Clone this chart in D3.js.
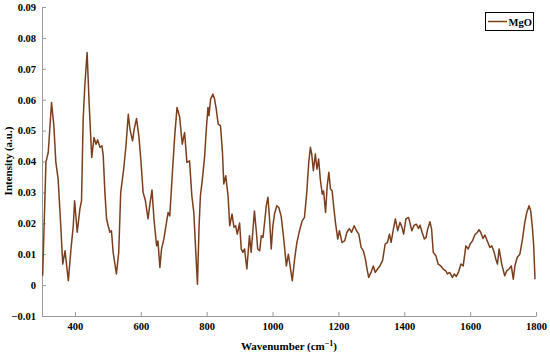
<!DOCTYPE html>
<html>
<head>
<meta charset="utf-8">
<script src="https://cdn.jsdelivr.net/npm/d3@7"></script>
<style>
  body { margin: 0; background: #fff; }
  svg { display: block; }
  text { font-family: "Liberation Serif", "Times New Roman", serif; }
</style>
</head>
<body>
<svg id="chart" width="550" height="356"></svg>
<script>
const wavenumber = [302,312,319,329,336,342,349,357,363,370,380,388,395,399,407,415,420,425,430,437,443,451,458,464,469,476,482,486,491,496,501,506,511,516,526,533,539,548,555,562,567,575,580,587,594,600,607,614,622,627,634,640,648,652,658,663,670,678,683,688,696,703,710,718,726,733,740,748,755,761,767,772,777,781,787,794,799,804,807,812,819,824,829,835,842,848,852,858,865,870,877,883,888,893,900,905,910,915,922,930,935,940,945,951,955,961,966,971,977,981,986,991,996,1001,1006,1013,1019,1026,1033,1042,1048,1060,1067,1074,1082,1090,1097,1104,1110,1115,1119,1124,1130,1135,1140,1145,1151,1155,1161,1166,1171,1176,1181,1186,1191,1198,1203,1211,1219,1226,1233,1240,1248,1255,1262,1269,1276,1282,1287,1292,1299,1306,1312,1319,1326,1334,1342,1349,1355,1360,1367,1373,1380,1387,1393,1398,1405,1413,1417,1423,1430,1437,1443,1448,1454,1461,1466,1471,1478,1483,1488,1496,1503,1511,1518,1526,1531,1538,1546,1552,1558,1565,1572,1579,1587,1594,1600,1607,1614,1622,1627,1632,1639,1645,1652,1660,1666,1673,1678,1683,1688,1696,1705,1711,1718,1725,1731,1736,1743,1751,1759,1766,1772,1779,1784,1789,1793,1797];
const intensity = [0.0030,0.0398,0.0430,0.0591,0.0516,0.0398,0.0343,0.0192,0.0068,0.0111,0.0014,0.0117,0.0192,0.0273,0.0171,0.0246,0.0273,0.0537,0.0645,0.0753,0.0591,0.0413,0.0478,0.0456,0.0470,0.0446,0.0451,0.0418,0.0300,0.0214,0.0192,0.0171,0.0176,0.0106,0.0036,0.0106,0.0300,0.0375,0.0451,0.0553,0.0505,0.0467,0.0505,0.0539,0.0483,0.0408,0.0300,0.0273,0.0214,0.0257,0.0308,0.0214,0.0127,0.0143,0.0057,0.0117,0.0149,0.0203,0.0235,0.0224,0.0365,0.0483,0.0575,0.0543,0.0456,0.0494,0.0397,0.0402,0.0289,0.0235,0.0106,0.0003,0.0192,0.0289,0.0343,0.0418,0.0505,0.0575,0.0548,0.0602,0.0618,0.0602,0.0570,0.0521,0.0516,0.0429,0.0327,0.0354,0.0289,0.0192,0.0230,0.0187,0.0192,0.0165,0.0201,0.0117,0.0106,0.0117,0.0052,0.0160,0.0106,0.0171,0.0240,0.0171,0.0117,0.0111,0.0160,0.0154,0.0214,0.0257,0.0284,0.0214,0.0117,0.0192,0.0230,0.0257,0.0251,0.0224,0.0160,0.0062,0.0100,0.0014,0.0084,0.0138,0.0176,0.0208,0.0219,0.0300,0.0397,0.0446,0.0424,0.0370,0.0424,0.0375,0.0408,0.0343,0.0294,0.0305,0.0235,0.0321,0.0365,0.0311,0.0305,0.0251,0.0203,0.0149,0.0176,0.0138,0.0143,0.0171,0.0183,0.0171,0.0192,0.0176,0.0165,0.0122,0.0111,0.0084,0.0052,0.0025,0.0041,0.0062,0.0041,0.0052,0.0062,0.0079,0.0133,0.0138,0.0165,0.0138,0.0181,0.0214,0.0176,0.0203,0.0187,0.0165,0.0214,0.0219,0.0203,0.0176,0.0194,0.0197,0.0183,0.0194,0.0171,0.0149,0.0154,0.0181,0.0205,0.0181,0.0106,0.0095,0.0068,0.0062,0.0052,0.0046,0.0036,0.0041,0.0025,0.0036,0.0028,0.0043,0.0068,0.0062,0.0127,0.0117,0.0133,0.0143,0.0162,0.0171,0.0179,0.0171,0.0151,0.0162,0.0143,0.0122,0.0127,0.0106,0.0084,0.0068,0.0117,0.0068,0.0030,0.0046,0.0052,0.0062,0.0019,0.0062,0.0090,0.0100,0.0149,0.0203,0.0235,0.0257,0.0240,0.0187,0.0127,0.0019];
const xTicks = [400,600,800,1000,1200,1400,1600,1800];
const xTickLabels = ["400","600","800","1000","1200","1400","1600","1800"];
const yTicks = [-0.01,0,0.01,0.02,0.03,0.04,0.05,0.06,0.07,0.08,0.09];
const yTickLabels = ["\u22120.01","0","0.01","0.02","0.03","0.04","0.05","0.06","0.07","0.08","0.09"];
const seriesName = "MgO";

const svg = d3.select("#chart");
const x = d3.scaleLinear().domain([300,1800]).range([42,536]);
const y = d3.scaleLinear().domain([-0.01,0.09]).range([316,7]);
const axisColor = "#9a9a9a";
const lineColor = "#7a3e1c";

// Y axis
const yAxis = d3.axisLeft(y).tickValues(yTicks)
  .tickFormat((d,i) => yTickLabels[i]).tickSizeInner(-4).tickSizeOuter(0).tickPadding(6);
const gy = svg.append("g").attr("transform","translate(42,0)").call(yAxis);
gy.select(".domain").attr("stroke",axisColor);
gy.selectAll(".tick line").attr("stroke",axisColor);
gy.selectAll(".tick text").attr("font-size","10.5px").attr("font-weight","bold").attr("fill","#000")
  .style("font-family","'Liberation Serif', serif");

// X axis
const xAxis = d3.axisBottom(x).tickValues(xTicks)
  .tickFormat((d,i) => xTickLabels[i]).tickSizeInner(-4).tickSizeOuter(0).tickPadding(7);
const gx = svg.append("g").attr("transform","translate(0,316)").call(xAxis);
gx.select(".domain").attr("stroke",axisColor);
gx.selectAll(".tick line").attr("stroke",axisColor);
gx.selectAll(".tick text").attr("font-size","10.5px").attr("font-weight","bold").attr("fill","#000")
  .style("font-family","'Liberation Serif', serif");

// Axis titles
svg.append("text")
  .attr("transform","translate(12,161) rotate(-90)")
  .attr("text-anchor","middle")
  .attr("font-size","11px").attr("font-weight","bold")
  .text("Intensity (a.u.)");

const xl = svg.append("text")
  .attr("x",289).attr("y",350)
  .attr("text-anchor","middle")
  .attr("font-size","11px").attr("font-weight","bold");
xl.append("tspan").text("Wavenumber (cm");
xl.append("tspan").attr("dy","-4").attr("font-size","8px").text("\u22121");
xl.append("tspan").attr("dy","4").text(")");

// Line
const data = wavenumber.map((w,i) => ({w, v: intensity[i]}));
svg.append("path")
  .datum(data)
  .attr("fill","none")
  .attr("stroke",lineColor)
  .attr("stroke-width",1.5)
  .attr("stroke-linejoin","round")
  .attr("d", d3.line().x(d => x(d.w)).y(d => y(d.v)));

// Legend
const lg = svg.append("g");
lg.append("rect").attr("x",485.5).attr("y",12.5).attr("width",48).attr("height",18)
  .attr("fill","#fff").attr("stroke","#000").attr("stroke-width",1);
lg.append("line").attr("x1",488).attr("x2",507).attr("y1",21.5).attr("y2",21.5)
  .attr("stroke",lineColor).attr("stroke-width",1.5);
lg.append("text").attr("x",508.5).attr("y",25.5).attr("font-size","10.5px")
  .attr("font-weight","bold").text(seriesName);
</script>
</body>
</html>
